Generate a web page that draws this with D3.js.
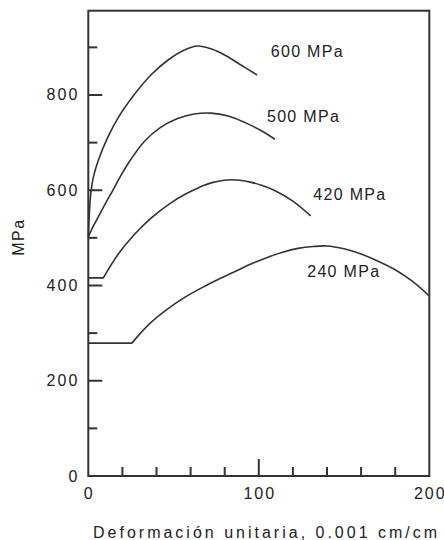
<!DOCTYPE html>
<html>
<head>
<meta charset="utf-8">
<script src="https://cdn.jsdelivr.net/npm/d3@7"></script>
<style>
  body { margin: 0; background: #fff; }
  svg { display: block; }
  text { font-family: "Liberation Sans", Arial, sans-serif; fill: #222; }
</style>
</head>
<body>
<svg id="chart" width="444" height="540"></svg>
<script>
// curvas esfuerzo-deformacion del concreto (f'c 240..600 MPa)
var strain600 = [0, 0.6, 1.5, 3, 6, 11, 18, 27, 37, 47, 56, 64, 72, 81, 90, 99];
var stress600 = [502, 550, 595, 628, 664, 708, 755, 801, 843, 874, 894, 903, 897, 882, 862, 842];

var strain500 = [0, 3, 6, 10, 14, 19, 25, 33, 42, 52, 62, 72, 82, 92, 102, 109.5];
var stress500 = [502, 525, 545, 572, 597, 630, 665, 703, 731, 750, 760, 762, 756, 742, 724, 707];

var strain420 = [0, 8.8, 17.6, 27, 37.3, 47, 57, 65, 72.6, 84, 95, 102, 109, 120, 130.4];
var stress420 = [416, 416, 466, 507, 543, 570, 592, 606, 616, 622, 617, 610, 600, 577, 546];

var strain240 = [0, 25.5, 36, 47, 57, 67, 77, 87, 96, 105, 114, 123, 132, 140, 150, 160, 170, 180, 190, 200];
var stress240 = [279, 279, 320, 352, 376, 396, 414, 431, 446, 459, 470, 478, 482, 483, 477, 466, 451, 433, 409, 378];

var seriesNames = ['600 MPa', '500 MPa', '420 MPa', '240 MPa'];
// punto (deformacion, esfuerzo) donde va cada etiqueta
var labelStrain = [107, 104.8, 132, 128.4];
var labelStress = [891, 755, 592, 430];

var xMajor = [0, 100, 200];
var xMinor = [20, 40, 60, 80, 120, 140, 160, 180];
var yMajor = [0, 200, 400, 600, 800];
var yMinor = [100, 300, 500, 700, 900];

var svg = d3.select('#chart');
// ojo: "top" choca con window.top
var mLeft = 88.3, mRight = 429.3, mTop = 10.7, mBottom = 476;

var x = d3.scaleLinear().domain([0, 200]).range([mLeft, mRight]);
var y = d3.scaleLinear().domain([0, 977]).range([mBottom, mTop]);

var series = [
    {name: seriesNames[0], xs: strain600, ys: stress600, flat: false},
    {name: seriesNames[1], xs: strain500, ys: stress500, flat: false},
    {name: seriesNames[2], xs: strain420, ys: stress420, flat: true},
    {name: seriesNames[3], xs: strain240, ys: stress240, flat: true}
];

var lineLinear = d3.line().x(function(d) { return x(d[0]); }).y(function(d) { return y(d[1]); });
var lineSmooth = d3.line().x(function(d) { return x(d[0]); }).y(function(d) { return y(d[1]); })
    .curve(d3.curveCatmullRom.alpha(0.5));

var g = svg.append('g');

series.forEach(function(s) {
    var pts = s.xs.map(function(v, i) { return [v, s.ys[i]]; });
    var d;
    if (s.flat) {
        // tramo de fluencia recto y luego la curva
        d = lineLinear(pts.slice(0, 2)) + lineSmooth(pts.slice(1)).replace(/^M/, 'L');
    } else {
        d = lineSmooth(pts);
    }
    g.append('path')
        .attr('d', d)
        .attr('fill', 'none')
        .attr('stroke', '#333')
        .attr('stroke-width', 1.6);
});

// marco
g.append('rect')
    .attr('x', mLeft).attr('y', mTop)
    .attr('width', mRight - mLeft).attr('height', mBottom - mTop)
    .attr('fill', 'none')
    .attr('stroke', '#333')
    .attr('stroke-width', 2);

// ticks hacia adentro
g.selectAll('.ytick')
    .data(yMajor.map(function(v) { return [v, 14]; }).concat(yMinor.map(function(v) { return [v, 9]; })))
    .enter().append('line')
    .attr('x1', mLeft).attr('x2', function(d) { return mLeft + d[1]; })
    .attr('y1', function(d) { return y(d[0]); })
    .attr('y2', function(d) { return y(d[0]); })
    .attr('stroke', '#333').attr('stroke-width', 2);

g.selectAll('.xtick')
    .data(xMajor.slice(1, 2).map(function(v) { return [v, 17]; }).concat(xMinor.map(function(v) { return [v, 9]; })))
    .enter().append('line')
    .attr('x1', function(d) { return x(d[0]); })
    .attr('x2', function(d) { return x(d[0]); })
    .attr('y1', mBottom).attr('y2', function(d) { return mBottom - d[1]; })
    .attr('stroke', '#333').attr('stroke-width', 2);

g.selectAll('.ylab')
    .data(yMajor)
    .enter().append('text')
    .attr('x', mLeft - 9)
    .attr('y', function(d) { return y(d); })
    .attr('text-anchor', 'end')
    .attr('dominant-baseline', 'central')
    .style('font-size', '16px')
    .style('letter-spacing', '2px')
    .text(function(d) { return d; });

g.selectAll('.xlab')
    .data(xMajor)
    .enter().append('text')
    .attr('x', function(d) { return x(d) + 1; })
    .attr('y', mBottom + 17)
    .attr('text-anchor', 'middle')
    .attr('dominant-baseline', 'central')
    .style('font-size', '16px')
    .style('letter-spacing', '2px')
    .text(function(d) { return d; });

g.append('text')
    .attr('x', 93)
    .attr('y', 538)
    .style('font-size', '16px')
    .style('letter-spacing', '3px')
    .text('Deformación unitaria, 0.001 cm/cm');

g.append('text')
    .attr('transform', 'translate(24,237) rotate(-90)')
    .attr('text-anchor', 'middle')
    .style('font-size', '16px')
    .style('letter-spacing', '1.5px')
    .text('MPa');

g.selectAll('.serlab')
    .data(seriesNames)
    .enter().append('text')
    .attr('x', function(d, i) { return x(labelStrain[i]); })
    .attr('y', function(d, i) { return y(labelStress[i]); })
    .attr('dominant-baseline', 'central')
    .style('font-size', '16px')
    .style('letter-spacing', '1.3px')
    .text(function(d) { return d; });
</script>
</body>
</html>
